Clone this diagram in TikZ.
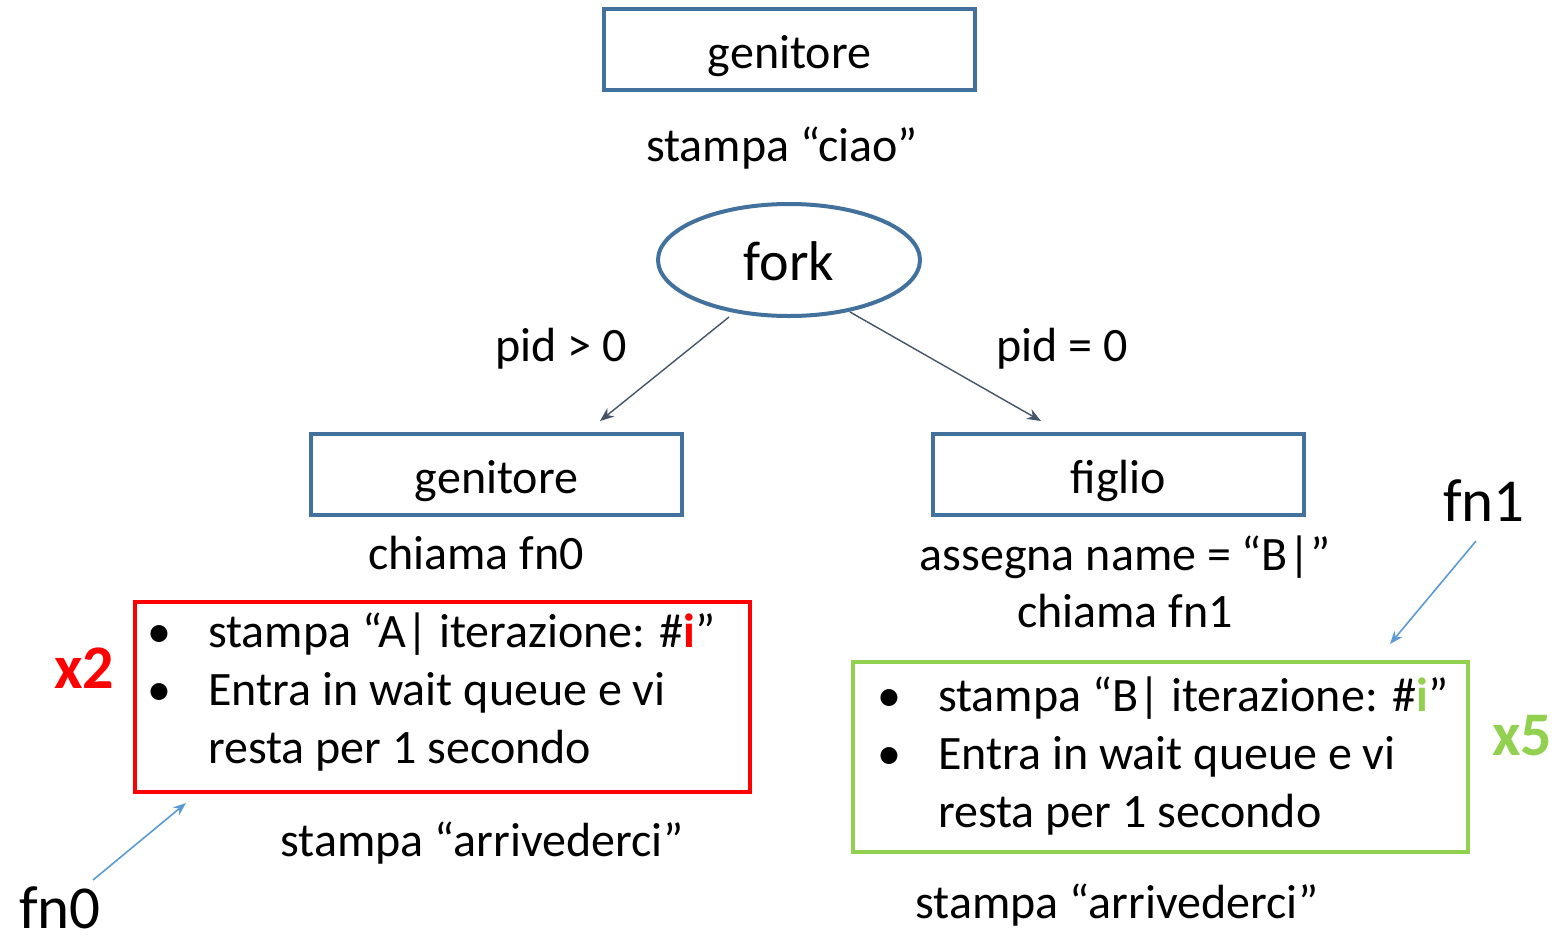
\documentclass[tikz,border=0pt]{standalone}
\usepackage{fontspec}
\setmainfont{Carlito}
\usetikzlibrary{arrows.meta,shapes.geometric}
\definecolor{boxblue}{HTML}{41719C}
\definecolor{arrowgray}{HTML}{44546A}
\definecolor{hintblue}{HTML}{5B9BD5}
\definecolor{loopgreen}{HTML}{92D050}
\definecolor{loopred}{HTML}{FF0000}
\newcommand{\txt}{\fontsize{48}{57}\selectfont}
\newcommand{\bul}{\llap{•\hspace{37pt}}}
\tikzset{
  procbox/.style={draw=boxblue, line width=4.5pt, minimum width=371pt, minimum height=81pt, inner sep=0pt},
  label/.style={inner sep=0pt, anchor=base, font=\txt},
  flow/.style={draw=arrowgray, line width=1.4pt, -{Stealth[length=14pt,width=11pt]}},
  hint/.style={draw=hintblue, line width=1.6pt, -{Stealth[length=13pt,width=10pt]}},
  item/.style={inner sep=0pt, anchor=base west, font=\txt},
  count/.style={inner sep=0pt, anchor=base, font=\fontsize{62}{70}\selectfont\bfseries},
  fname/.style={inner sep=0pt, anchor=base, font=\fontsize{61}{70}\selectfont},
}
\begin{document}
\begin{tikzpicture}[x=1pt,y=-1pt]
\useasboundingbox (0,0) rectangle (1552,940);

% top of the tree
\node[procbox] (top) at (789.5,49.5) {};
\node[label] (toplbl) at (789.5,68) {genitore};
\node[label] (ciao) at (782,161) {stampa “ciao”};
\node[draw=boxblue, line width=4pt, ellipse, minimum width=262pt, minimum height=112pt, inner sep=0pt] (fork) at (789,260) {};
\node[inner sep=0pt, anchor=base, font=\fontsize{56}{64}\selectfont] (forklbl) at (789,280) {fork};

% the two processes
\node[procbox] (par) at (496.5,474.5) {};
\node[label] (parlbl) at (496.5,493) {genitore};
\node[procbox] (child) at (1118.5,474.5) {};
\node[label] (childlbl) at (1118.5,493) {figlio};

% branches out of fork
\coordinate (fl) at (729,317);
\coordinate (fr) at (850,312);
\coordinate (tl) at (600,421);
\coordinate (tr) at (1041,421);
\draw[flow] (fl) -- (tl);
\draw[flow] (fr) -- (tr);
\node[label] (gt) at (561,361) {pid > 0};
\node[label] (eq) at (1062,361) {pid = 0};

% parent side
\node[label] (c0) at (476,569) {chiama fn0};
\node[draw=loopred, line width=4.5pt, minimum width=615pt, minimum height=190pt, inner sep=0pt] (rbox) at (442.5,697) {};
\node[item] (ra) at (208,647) {\bul stampa “A| iterazione: \#\textcolor{loopred}{\textbf{i}}”};
\node[item] (rb) at (208,705) {\bul Entra in wait queue e vi};
\node[item] (rc) at (208,763) {resta per 1 secondo};
\node[count, text=loopred] (x2) at (84,688) {x2};
\node[label] (bye0) at (482,856) {stampa “arrivederci”};
\node[fname] (fn0) at (60,928) {fn0};
\coordinate (f0s) at (93,880);
\coordinate (f0e) at (186,803);
\draw[hint] (f0s) -- (f0e);

% child side
\node[label] (as) at (1125,570) {assegna name = “B|”};
\node[label] (c1) at (1125,627) {chiama fn1};
\node[draw=loopgreen, line width=4pt, minimum width=615pt, minimum height=190pt, inner sep=0pt] (gbox) at (1160.5,757) {};
\node[item] (ga) at (938,711) {\bul stampa “B| iterazione: \#\textcolor{loopgreen}{\textbf{i}}”};
\node[item] (gb) at (938,769) {\bul Entra in wait queue e vi};
\node[item] (gc) at (938,827) {resta per 1 secondo};
\node[count, text=loopgreen] (x5) at (1522,755) {x5};
\node[label] (bye1) at (1117,918) {stampa “arrivederci”};
\node[fname] (fn1) at (1484,521) {fn1};
\coordinate (f1s) at (1476,541);
\coordinate (f1e) at (1390,644);
\draw[hint] (f1s) -- (f1e);
\end{tikzpicture}
\end{document}
